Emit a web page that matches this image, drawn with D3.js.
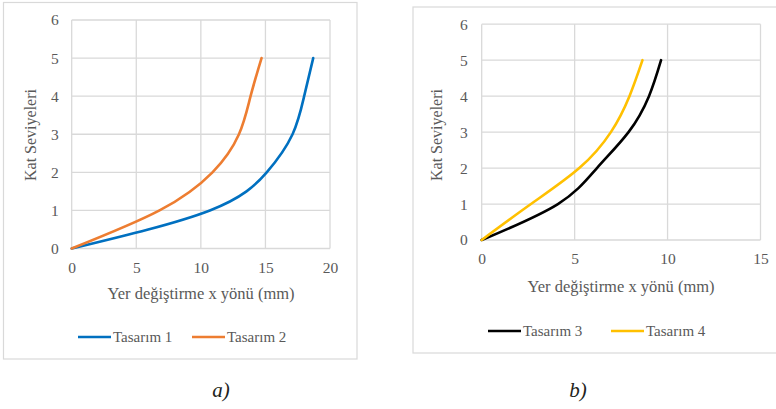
<!DOCTYPE html>
<html><head><meta charset="utf-8">
<script src="https://cdn.jsdelivr.net/npm/d3@7"></script>
</head>
<body style="margin:0">
<svg id="c" width="776" height="409"></svg>
<script>
// Data
const levels = [0, 1, 2, 3, 4, 5];
const tasarim1 = [0, 10.7, 15.1, 17.1, 18.0, 18.7];
const tasarim2 = [0, 6.8, 10.9, 12.95, 13.85, 14.7];
const tasarim3 = [0, 4.1, 6.2, 7.9, 9.0, 9.65];
const tasarim4 = [0, 2.65, 5.25, 6.95, 7.95, 8.65];
const xTicksA = [0, 5, 10, 15, 20];
const xTicksB = [0, 5, 10, 15];
const yTicks = [0, 1, 2, 3, 4, 5, 6];
const xTitle = "Yer değiştirme x yönü (mm)";
const yTitle = "Kat Seviyeleri";

const svg = d3.select("#c");
const grid = "#d9d9d9", txt = "#595959";
const FONT = '"Liberation Serif"';

function setFont(sel, size) {
  sel.attr("font-family", "Liberation Serif").style("font-family", FONT).style("font-size", size + "px");
  sel.each(function () { this.getComputedTextLength(); });
  return sel;
}

function panel(cfg) {
  const g = svg.append("g");
  g.append("rect").attr("x", cfg.frame[0]).attr("y", cfg.frame[1])
    .attr("width", cfg.frame[2]).attr("height", cfg.frame[3])
    .attr("fill", "#fff").attr("stroke", grid).attr("stroke-width", 1.2);
  const x = d3.scaleLinear().domain(cfg.xDomain).range([cfg.left, cfg.right]);
  const y = d3.scaleLinear().domain([0, 6]).range([cfg.bottom, cfg.top]);
  g.append("g").selectAll("line").data(cfg.xTicks).join("line")
    .attr("x1", d => x(d)).attr("x2", d => x(d))
    .attr("y1", cfg.top).attr("y2", cfg.bottom)
    .attr("stroke", grid).attr("stroke-width", 1.3);
  g.append("g").selectAll("line").data(yTicks).join("line")
    .attr("y1", d => y(d)).attr("y2", d => y(d))
    .attr("x1", cfg.left).attr("x2", cfg.right)
    .attr("stroke", grid).attr("stroke-width", 1.3);
  const ax = d3.axisBottom(x).tickValues(cfg.xTicks).tickFormat(d3.format("d"))
    .tickSize(0).tickPadding(cfg.xPad);
  const xa = g.append("g").attr("transform", `translate(0,${cfg.bottom})`).call(ax)
    .attr("font-family", null).attr("font-size", null);
  xa.select(".domain").remove();
  setFont(xa.selectAll("text").attr("fill", txt), 15.5);
  const ay = d3.axisLeft(y).tickValues(yTicks).tickFormat(d3.format("d"))
    .tickSize(0).tickPadding(cfg.yPad);
  const ya = g.append("g").attr("transform", `translate(${cfg.left},0)`).call(ay)
    .attr("font-family", null).attr("font-size", null);
  ya.select(".domain").remove();
  setFont(ya.selectAll("text").attr("fill", txt), 15.5);
  setFont(g.append("text").attr("x", cfg.xTitlePos[0]).attr("y", cfg.xTitlePos[1])
    .attr("text-anchor", "middle").attr("fill", txt).text(xTitle), 16.5);
  setFont(g.append("text").attr("transform", `translate(${cfg.yTitlePos[0]},${cfg.yTitlePos[1]}) rotate(-90)`)
    .attr("text-anchor", "middle").attr("fill", txt).text(yTitle), 16);
  const line = d3.line().x(d => x(d[0])).y(d => y(d[1])).curve(d3.curveNatural);
  cfg.series.forEach(s => {
    g.append("path").datum(s.values.map((v, i) => [v, levels[i]]))
      .attr("d", line).attr("fill", "none").attr("stroke", s.color)
      .attr("stroke-width", 2.6).attr("stroke-linecap", "round");
  });
  cfg.series.forEach((s, i) => {
    const lx = cfg.legend[i];
    g.append("line").attr("x1", lx).attr("x2", lx + 33)
      .attr("y1", cfg.legendY).attr("y2", cfg.legendY)
      .attr("stroke", s.color).attr("stroke-width", 2.6);
    setFont(g.append("text").attr("x", lx + 35).attr("y", cfg.legendY + 5)
      .attr("fill", txt).text(s.name), 15);
  });
}

panel({
  frame: [3.5, 2.5, 353.5, 356.5],
  xDomain: [0, 20], xTicks: xTicksA,
  left: 71.7, right: 330, top: 20, bottom: 248.5,
  xPad: 13, yPad: 13,
  xTitlePos: [201, 299], yTitlePos: [36, 135],
  series: [
    {name: "Tasarım 1", values: tasarim1, color: "#0070C0"},
    {name: "Tasarım 2", values: tasarim2, color: "#ED7D31"}
  ],
  legend: [78, 192], legendY: 337
});

panel({
  frame: [413, 7, 366, 346],
  xDomain: [0, 15], xTicks: xTicksB,
  left: 481.7, right: 760.5, top: 24.2, bottom: 240,
  xPad: 13, yPad: 14,
  xTitlePos: [621, 292], yTitlePos: [442, 135],
  series: [
    {name: "Tasarım 3", values: tasarim3, color: "#000000"},
    {name: "Tasarım 4", values: tasarim4, color: "#FFC000"}
  ],
  legend: [488, 611], legendY: 331
});

setFont(svg.append("text").attr("x", 221).attr("y", 397).attr("text-anchor", "middle")
  .attr("fill", "#231f20").style("font-style", "italic").text("a)"), 21);
setFont(svg.append("text").attr("x", 578).attr("y", 397).attr("text-anchor", "middle")
  .attr("fill", "#231f20").style("font-style", "italic").text("b)"), 21);
</script>
</body></html>
